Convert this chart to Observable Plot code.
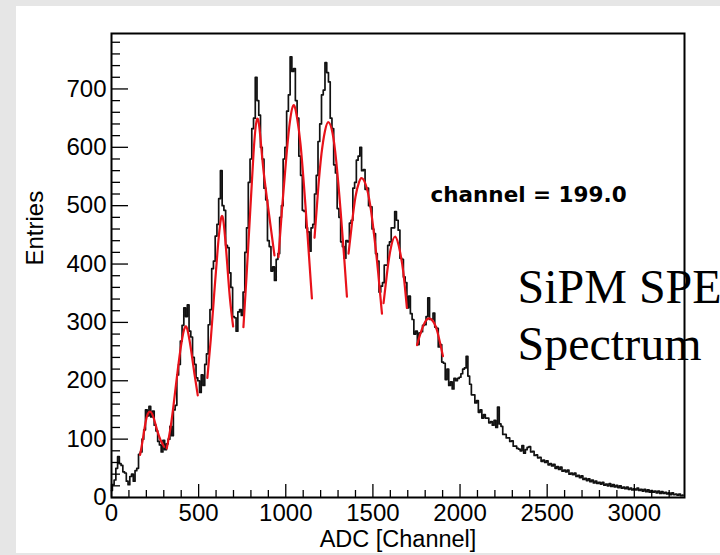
<!DOCTYPE html>
<html><head><meta charset="utf-8">
<script src="https://cdn.jsdelivr.net/npm/d3@7"></script>
<script src="https://cdn.jsdelivr.net/npm/@observablehq/plot@0.6"></script>
<style>
html,body{margin:0;padding:0;background:#e6e6e6;width:720px;height:555px;overflow:hidden;}
#panel{position:absolute;left:16px;top:6px;width:704px;height:547px;background:#fff;}
#panel svg{overflow:visible;}
</style></head><body><div id="panel"></div>
<script>
// Histogram: bins of 10 ADC channels starting at channel 0
const binWidth = 10;
const entries = [
12,22,30,50,70,58,55,44,42,28,22,36,40,28,46,50,74,78,100,116,
150,140,156,138,148,124,114,96,90,78,98,82,92,100,122,106,150,158,210,228,
268,295,325,310,330,285,275,240,228,205,200,180,210,192,228,246,296,322,392,405,
448,468,512,560,500,492,432,428,385,360,310,308,285,318,322,312,352,420,462,540,
580,632,650,720,680,655,600,580,530,510,440,430,388,395,372,408,418,480,500,580,
600,662,690,755,730,735,680,650,585,552,492,490,462,455,422,462,468,520,552,610,
640,690,698,745,728,712,650,632,570,556,495,480,438,430,410,440,438,470,475,530,
540,578,585,600,560,562,528,530,500,498,460,452,418,405,352,362,368,398,398,432,
438,462,462,490,475,458,410,408,378,368,325,345,315,305,280,285,262,282,284,295,
296,310,342,305,305,316,292,290,258,262,232,230,202,220,192,198,186,204,200,204,
206,212,220,222,242,208,194,176,176,162,166,146,150,136,142,136,136,128,130,124,
132,120,155,126,122,108,108,102,102,96,97,88,88,84,83,80,89,76,82,86,
87,78,79,72,73,68,69,62,64,60,63,56,58,54,57,50,53,48,52,45,
47,44,47,40,42,39,42,36,38,34,37,31,33,29,32,27,30,25,28,24,
26,23,26,21,23,20,24,19,22,18,21,17,20,16,18,15,18,14,16,13,
15,13,16,12,14,11,14,10,13,9,12,9,11,8,11,7,10,7,9,6,
8,5,8,5,6,4,6,3,4
];

// Gaussian fit curves, read as [channel, entries] points
const fit1 = [[164,73],[180,100],[195,128],[208,143],[221,147],[235,142],[250,128],[265,112],[282,98],[302,87]];
const fit2 = [[317,84],[340,122],[360,168],[380,218],[400,262],[422,292],[440,282],[458,250],[476,212],[495,175]];
const fit3 = [[550,205],[570,272],[590,352],[610,428],[631,481],[648,458],[664,400],[680,340],[698,293]];
const fit4 = [[757,292],[775,380],[795,485],[815,590],[836,649],[855,615],[872,561],[901,492],[935,415]];
const fit5 = [[958,412],[980,500],[1000,572],[1020,635],[1044,672],[1065,650],[1085,604],[1110,512],[1130,428],[1150,341]];
const fit6 = [[1165,445],[1185,525],[1205,589],[1225,628],[1245,643],[1268,625],[1290,575],[1315,490],[1335,412],[1351,344]];
const fit7 = [[1360,418],[1380,470],[1400,515],[1420,540],[1437,547],[1460,535],[1485,500],[1510,442],[1530,386],[1552,315]];
const fit8 = [[1561,333],[1580,382],[1600,423],[1628,447],[1655,422],[1675,385],[1695,325]];
const fit9 = [[1753,261],[1775,283],[1800,301],[1822,307],[1845,302],[1870,284],[1902,242]];
const fits = [fit1, fit2, fit3, fit4, fit5, fit6, fit7, fit8, fit9];

const xMajorTicks = [0, 500, 1000, 1500, 2000, 2500, 3000];
const xMinorTicks = [100,200,300,400,600,700,800,900,1100,1200,1300,1400,1600,1700,1800,1900,2100,2200,2300,2400,2600,2700,2800,2900,3100,3200];
const yMajorTicks = [0, 100, 200, 300, 400, 500, 600, 700];
const yMinorTicks = [20,40,60,80,120,140,160,180,220,240,260,280,320,340,360,380,420,440,460,480,520,540,560,580,620,640,660,680,720,740,760,780];

const xTitle = "ADC [Channel]";
const yTitle = "Entries";
const statText = "channel = 199.0";
const noteLines = ["SiPM SPE", "Spectrum"];

const hist = entries.map((v, i) => ({channel: i * binWidth, entries: v}));
const fitRows = fits.flatMap((pts, k) => pts.map(([c, v]) => ({fit: k, channel: c, value: v})));

const sans = "'Liberation Sans', Arial, Helvetica, sans-serif";

const chart = Plot.plot({
  width: 704,
  height: 547,
  marginLeft: 95,
  marginRight: 36,
  marginTop: 27,
  marginBottom: 56,
  x: {domain: [0, 3288]},
  y: {domain: [0, 795]},
  style: {background: "transparent", fontFamily: sans, color: "black"},
  marks: [
    Plot.line(hist, {x: "channel", y: "entries", curve: "step", stroke: "#111", strokeWidth: 1.7}),
    Plot.line(fitRows, {x: "channel", y: "value", z: "fit", curve: "natural", stroke: "#e8121a", strokeWidth: 2.2}),
    Plot.axisX(xMinorTicks, {tickSize: -7, tickFormat: () => "", label: null, strokeWidth: 1.3}),
    Plot.axisX(xMajorTicks, {tickSize: -13, tickFormat: () => "", label: null, strokeWidth: 1.3}),
    Plot.axisX(xMajorTicks, {tickSize: 0, tickPadding: 6, tickFormat: d => String(d), label: null, fontSize: 24}),
    Plot.axisY(yMinorTicks, {tickSize: -9, tickFormat: () => "", label: null, strokeWidth: 1.3}),
    Plot.axisY(yMajorTicks, {tickSize: -17, tickFormat: () => "", label: null, strokeWidth: 1.3}),
    Plot.axisY(yMajorTicks, {tickSize: 0, tickPadding: 5, tickFormat: d => String(d), label: null, fontSize: 24}),
    Plot.frame({stroke: "black", strokeWidth: 2}),
    Plot.text([xTitle], {text: d => d, frameAnchor: "bottom", lineAnchor: "bottom", dy: 49, fontSize: 23.5}),
    Plot.text([yTitle], {text: d => d, frameAnchor: "left", rotate: -90, lineAnchor: "bottom", dx: -69, fontSize: 24}),
    Plot.text([statText], {text: d => d, frameAnchor: "top-left", textAnchor: "start", lineAnchor: "bottom", dx: 319, dy: 168, fontSize: 21.5, fontWeight: "bold", fontFamily: "'DejaVu Sans', sans-serif"}),
    Plot.text([noteLines[0]], {text: d => d, frameAnchor: "top-left", textAnchor: "start", lineAnchor: "bottom", dx: 406, dy: 269, fontSize: 48, fontFamily: "'Liberation Serif', 'Times New Roman', serif"}),
    Plot.text([noteLines[1]], {text: d => d, frameAnchor: "top-left", textAnchor: "start", lineAnchor: "bottom", dx: 406, dy: 326, fontSize: 48, fontFamily: "'Liberation Serif', 'Times New Roman', serif"})
  ]
});
document.getElementById("panel").appendChild(chart);
</script>
</body></html>
